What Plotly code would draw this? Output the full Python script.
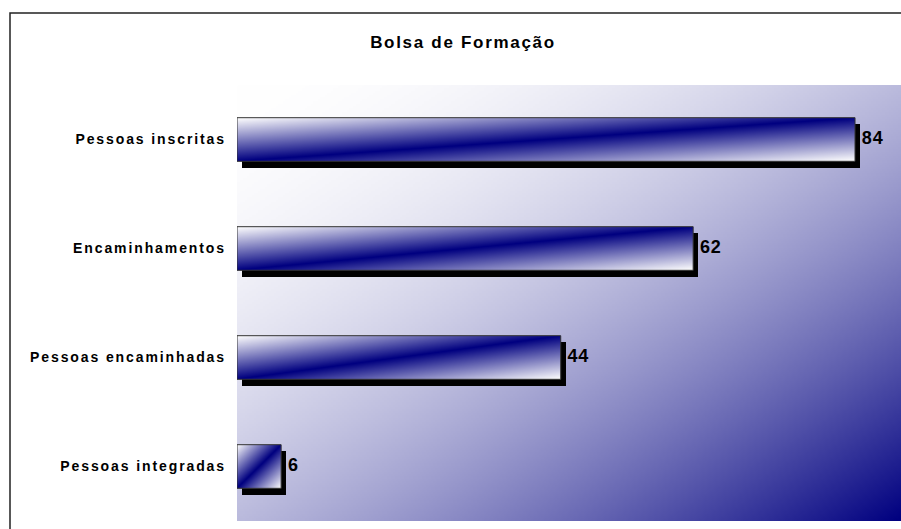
import base64
import struct
import zlib

import numpy as np
import plotly.graph_objects as go

# ---------------- data ----------------
categories = ["Pessoas integradas", "Pessoas encaminhadas", "Encaminhamentos", "Pessoas inscritas"]
values = [6, 44, 62, 84]
title_text = "Bolsa de Formação"

# ---------------- helpers ----------------
NAVY = np.array([0, 0, 128], dtype=float)
WHITE = np.array([255, 255, 255], dtype=float)


def png_uri(arr):
    arr = np.ascontiguousarray(np.clip(arr, 0, 255).astype(np.uint8))
    h, w, _ = arr.shape
    raw = b"".join(b"\x00" + arr[r].tobytes() for r in range(h))

    def chunk(tag, data):
        return (struct.pack(">I", len(data)) + tag + data
                + struct.pack(">I", zlib.crc32(tag + data) & 0xFFFFFFFF))

    png = (b"\x89PNG\r\n\x1a\n"
           + chunk(b"IHDR", struct.pack(">IIBBBBB", w, h, 8, 2, 0, 0, 0))
           + chunk(b"IDAT", zlib.compress(raw, 9))
           + chunk(b"IEND", b""))
    return "data:image/png;base64," + base64.b64encode(png).decode()


# plot-area background: white (top-left) -> navy (bottom-right)
bh, bw = 200, 300
v, u = np.mgrid[0:bh, 0:bw]
s = ((u / (bw - 1)) + (v / (bh - 1))) / 2.0
t = s ** 1.9
bg = WHITE[None, None, :] * (1 - t[..., None]) + NAVY[None, None, :] * t[..., None]
bg_uri = png_uri(bg)

# bar fill: navy diagonal band from bottom-left to top-right, white corners
gh, gw = 100, 200
v, u = np.mgrid[0:gh, 0:gw]
d = np.abs(u / (gw - 1) + v / (gh - 1) - 1.0)
d = np.clip(d, 0, 1)
bar = NAVY[None, None, :] * (1 - d[..., None]) + WHITE[None, None, :] * d[..., None]
bar_uri = png_uri(bar)

# ---------------- figure ----------------
ypos = list(range(len(categories)))
bar_w = 0.4
shadow_dx = 0.68
shadow_dy = 0.06
label_gap = 0.25
FONT = "Liberation Sans, Arial, sans-serif"

fig = go.Figure()

# shadows
fig.add_trace(go.Bar(
    orientation="h",
    x=values,
    base=[shadow_dx] * len(values),
    y=[p - shadow_dy for p in ypos],
    width=bar_w,
    marker=dict(color="black", line=dict(width=0)),
    hoverinfo="skip",
    showlegend=False,
))

# value labels
fig.add_trace(go.Scatter(
    x=[val + shadow_dx + label_gap for val in values],
    y=ypos,
    mode="text",
    text=[str(val) for val in values],
    textposition="middle right",
    textfont=dict(family=FONT, size=18, color="black", weight="bold"),
    hoverinfo="skip",
    showlegend=False,
))

images = [dict(source=bg_uri, xref="paper", yref="paper", x=0, y=1, sizex=1, sizey=1,
               xanchor="left", yanchor="top", sizing="stretch", layer="below")]
shapes = []
for p, val in zip(ypos, values):
    images.append(dict(source=bar_uri, xref="x", yref="y", x=0, y=p + bar_w / 2,
                       sizex=val, sizey=bar_w, xanchor="left", yanchor="top",
                       sizing="stretch", layer="above"))
    shapes.append(dict(type="rect", xref="x", yref="y", x0=0, x1=val,
                       y0=p - bar_w / 2, y1=p + bar_w / 2,
                       line=dict(color="#333333", width=1), layer="above"))

# page margin is removed below, so figure pixels == window pixels
W, H = 901, 529
ml, mr, mt, mb = 237, 0, 85, 8
pw = W - ml - mr
ph = H - mt - mb

# outer chart border (left and top edges visible)
bx, by = 10, 13
shapes.append(dict(type="rect", xref="paper", yref="paper",
                   x0=(bx - ml) / pw, x1=1.2, y0=-0.2, y1=1 + (mt - by) / ph,
                   line=dict(color="#222222", width=1.5), layer="above"))

fig.update_layout(
    width=W, height=H,
    margin=dict(l=ml, r=mr, t=mt, b=mb, pad=0),
    paper_bgcolor="white",
    plot_bgcolor="rgba(0,0,0,0)",
    images=images,
    shapes=shapes,
    bargap=0,
    title=dict(text="<b>" + title_text + "</b>", xref="paper", x=(463 - ml) / pw,
               xanchor="center", yref="container", y=1 - 42 / H, yanchor="middle",
               font=dict(family=FONT, size=17, color="black")),
    xaxis=dict(range=[0, 90.25], visible=False, showgrid=False, zeroline=False, fixedrange=True),
    yaxis=dict(range=[-0.5, 3.5], tickvals=ypos, ticktext=categories, showgrid=False,
               zeroline=False, ticks="", showline=False, ticklabelstandoff=10,
               tickfont=dict(family=FONT, size=14, color="black", weight="bold"),
               fixedrange=True),
    showlegend=False,
)

page_js = """
document.documentElement.style.overflow = 'hidden';
document.body.style.overflow = 'hidden';
document.body.style.margin = '0';
var gd = document.getElementById('{plot_id}');
function applySpacing() {
  gd.querySelectorAll('.ytick text').forEach(function (e) { e.style.letterSpacing = '1.9px'; });
  gd.querySelectorAll('.gtitle').forEach(function (e) { e.style.letterSpacing = '1.7px'; });
  gd.querySelectorAll('.textpoint text').forEach(function (e) { e.style.letterSpacing = '0.8px'; });
}
applySpacing();
gd.on('plotly_afterplot', applySpacing);
"""

fig.write_html("out.html", post_script=page_js, config={"displayModeBar": False})
